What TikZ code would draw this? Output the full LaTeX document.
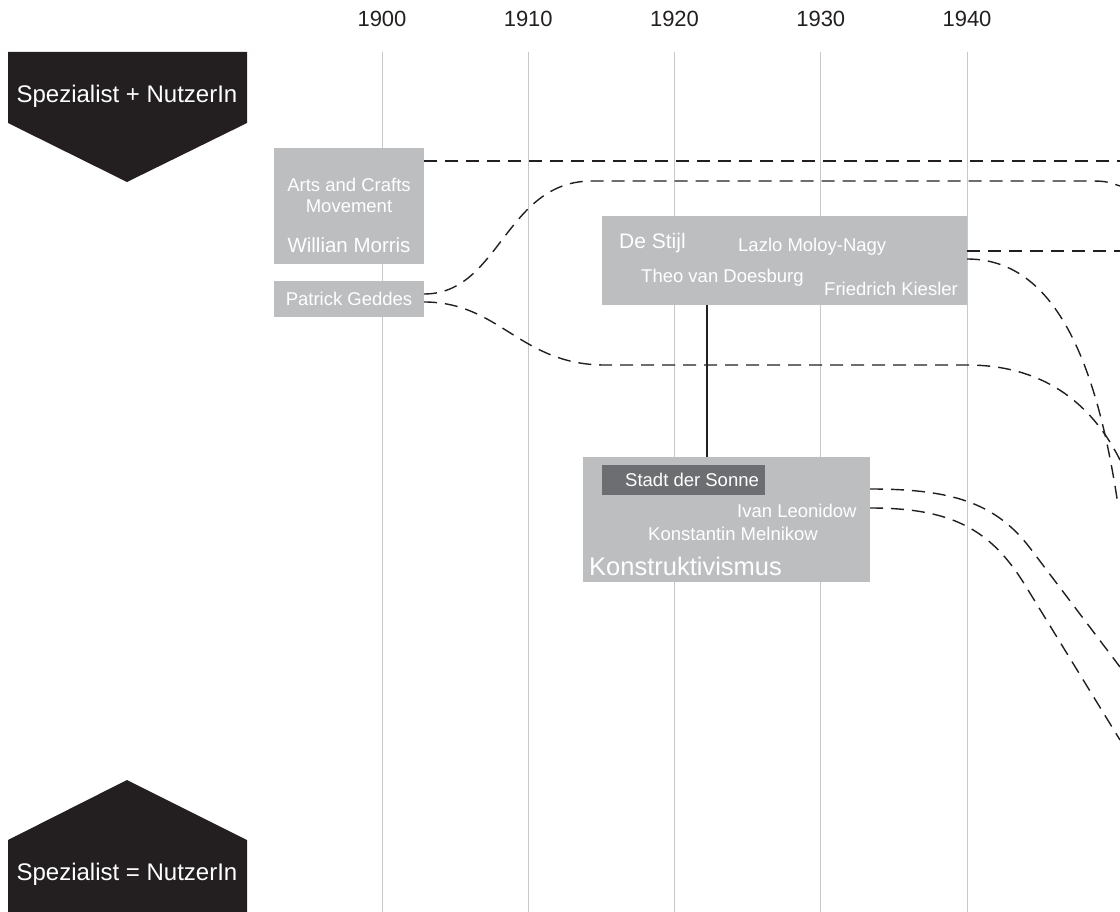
\documentclass[tikz,border=0pt]{standalone}
\usepackage{fontspec}
\setmainfont{Liberation Sans}
\definecolor{boxgray}{HTML}{BCBEC0}
\definecolor{sonnegray}{HTML}{6D6E71}
\definecolor{pentblack}{HTML}{231F20}
\definecolor{gridgray}{HTML}{C7C8CA}

\tikzset{
  box/.style={fill=boxgray, inner sep=0pt, outer sep=0pt},
  txt/.style={text=white, inner sep=0pt, anchor=base west, font=\fontsize{18.5}{22}\selectfont},
  flow/.style={pentblack, line width=1.4pt, dash pattern=on 13pt off 8pt},
}

\begin{document}
\begin{tikzpicture}[x=1pt,y=-1pt]
    \useasboundingbox (0,0) rectangle (1120,912);

    \foreach \yr [count=\i from 0] in {1900,1910,1920,1930,1940} {
        \draw [gridgray, line width=0.8pt] ({382+146.25*\i},52) -- ({382+146.25*\i},912);
        \node (Y\yr) [anchor=base, inner sep=0pt, text=pentblack, font=\fontsize{22}{25}\selectfont] at ({382+146.25*\i},27) {\yr};
    }

    \fill [pentblack] (8,52) -- (247,52) -- (247,123) -- (127,182) -- (8,123) -- cycle;
    \fill [pentblack] (127,780) -- (247,840) -- (247,912) -- (8,912) -- (8,840) -- cycle;
    \node (SPN) [txt, anchor=base, font=\fontsize{24}{28}\selectfont] at (127,103) {Spezialist + NutzerIn};
    \node (SEN) [txt, anchor=base, font=\fontsize{24}{28}\selectfont] at (127,880) {Spezialist = NutzerIn};

    \node (ACM) [box, minimum width=150pt, minimum height=116pt] at (349,206) {};
    \node (PGE) [box, minimum width=150pt, minimum height=36pt, text=white, font=\fontsize{18.5}{22}\selectfont] at (349,299) {Patrick Geddes};
    \node (DST) [box, minimum width=365pt, minimum height=89pt] at (784.5,260.5) {};
    \node (KON) [box, minimum width=287pt, minimum height=125pt] at (726.5,519.5) {};
    \node (SDS) [box, fill=sonnegray, minimum width=163pt, minimum height=30pt] at (683.5,480) {};

    \node (ART) [txt, anchor=base] at (349,192) {Arts and Crafts};
    \node (MOV) [txt, anchor=base] at (349,213) {Movement};
    \node (WMO) [txt, anchor=base, font=\fontsize{20.5}{24}\selectfont] at (349,253) {Willian Morris};
    \node (DES) [txt, font=\fontsize{21}{24}\selectfont] at (619,249) {De Stijl};
    \node (LMN) [txt] at (738,252) {Lazlo Moloy-Nagy};
    \node (TVD) [txt] at (641,283) {Theo van Doesburg};
    \node (FKI) [txt] at (824,296) {Friedrich Kiesler};
    \node (SDT) [txt] at (625,486) {Stadt der Sonne};
    \node (ILE) [txt] at (737,517) {Ivan Leonidow};
    \node (KME) [txt] at (648,540) {Konstantin Melnikow};
    \node (KST) [txt, font=\fontsize{25.5}{30}\selectfont] at (589,575) {Konstruktivismus};

    \coordinate (SOL) at (707,0);
    \coordinate (R1) at (1120,161);
    \coordinate (R2) at (1120,186);
    \coordinate (R3) at (1120,460);
    \coordinate (R4) at (1120,251);
    \coordinate (R5) at (1118,505);
    \coordinate (R6) at (1120,667);
    \coordinate (R7) at (1120,740);

    \draw [pentblack, line width=2.8pt] (DST.south -| SOL) -- (KON.north -| SOL);

    \draw [flow] ([yshift=-13pt]ACM.north east) -- (R1);
    \draw [flow] ([yshift=5pt]PGE.east) .. controls (500,294) and (505,181) .. (592,181) -- (1085,181) .. controls (1105,181) .. (R2);
    \draw [flow] ([yshift=-3pt]PGE.east) .. controls (500,302) and (520,365) .. (605,365) -- (967,365) .. controls (1040,365) and (1090,400) .. (R3);
    \draw [flow] ([yshift=-35pt]DST.north east) -- (R4);
    \draw [flow] ([yshift=-43pt]DST.north east) .. controls (1050,259) and (1095,350) .. (R5);
    \draw [flow] ([yshift=-32pt]KON.north east) .. controls (950,489) and (995,502) .. (1030,548) -- (R6);
    \draw [flow] ([yshift=-51pt]KON.north east) .. controls (950,508) and (990,528) .. (1025,585) -- (R7);
\end{tikzpicture}
\end{document}
